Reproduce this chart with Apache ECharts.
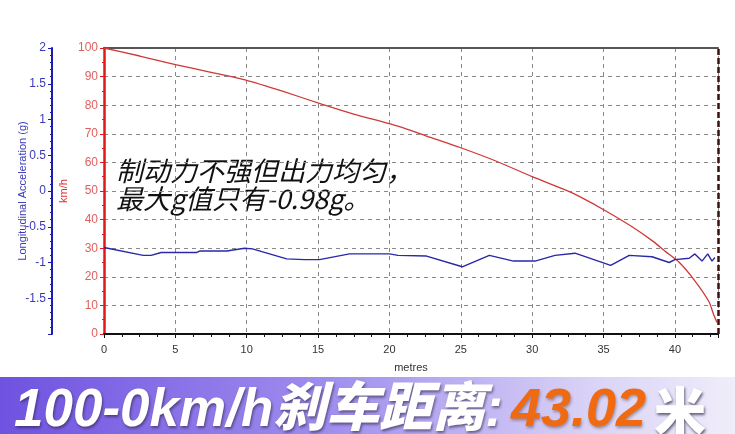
<!DOCTYPE html>
<html><head><meta charset="utf-8">
<script src="https://cdn.jsdelivr.net/npm/echarts@6/dist/echarts.min.js"></script>
<style>html,body{margin:0;padding:0;background:#fff}#c{width:735px;height:434px}</style>
</head><body><div id="c"></div>
<script>
// Distance (m) and speed (km/h)
const speedDist = [0,2.5,5,7.5,10,12.5,15.3,17.5,20.7,22.5,24.9,27.5,30,32.4,33.3,35.1,37,38.5,39.35,40.3,41.4,42.4,42.7,42.95];
const speedVals = [100,97.2,94.2,91.5,88.7,84.9,80.3,76.9,72.5,69.4,65.3,60.4,55,50.2,48.1,43.2,37.5,32.3,28.8,25.1,18.6,11.2,7,4];
// Distance (m) and longitudinal acceleration (g)
const accDist = [0,2.75,3.3,4.0,6.5,6.7,8.6,9.85,10.4,12.8,14.05,15.1,17.2,20.0,20.6,22.6,25.1,27.0,28.7,30.2,31.6,33.0,35.5,36.8,38.4,39.6,40.0,41.0,41.4,41.9,42.3,42.6,42.8];
const accVals = [-0.79,-0.90,-0.90,-0.86,-0.86,-0.84,-0.84,-0.80,-0.81,-0.95,-0.96,-0.96,-0.88,-0.88,-0.90,-0.91,-1.06,-0.90,-0.98,-0.98,-0.90,-0.87,-1.04,-0.90,-0.92,-1.00,-0.96,-0.94,-0.88,-0.98,-0.88,-0.98,-0.93];
const stopDistance = 43.02;
const xTicks = [0,5,10,15,20,25,30,35,40];
const note = '制动力不强但出力均匀，\n最大g值只有-0.98g。';
const bannerA = '100-0km/h刹车距离:';
const bannerB = '43.02';
const bannerC = '米';

const chart = echarts.init(document.getElementById('c'), null, {renderer:'canvas'});
chart.setOption({
  animation:false,
  backgroundColor:'#fff',
  grid: {left:104, right:17, top:48, bottom:100, containLabel:false, outerBoundsMode:'none'},
  xAxis: [{
    type:'value', min:0, max:stopDistance, interval:5,
    name:'metres', nameLocation:'middle', nameGap:28, nameMoveOverlap:false,
    nameTextStyle:{color:'#333', fontSize:11, fontFamily:'Liberation Sans'},
    axisLine:{onZero:false, lineStyle:{color:'#111', width:2}},
    axisTick:{show:true, length:4, lineStyle:{color:'#111'}},
    minorTick:{show:true, splitNumber:4, length:3, lineStyle:{color:'#111'}},
    axisLabel:{color:'#333', fontSize:11, fontFamily:'Liberation Sans', margin:10,
      formatter:v=> xTicks.includes(v) ? String(v) : ''},
    splitLine:{show:true, lineStyle:{color:'#8a8a8a', type:[4,4], width:1}}
  },{
    type:'value', min:0, max:stopDistance, position:'top',
    axisLine:{show:true, onZero:false, lineStyle:{color:'#555', width:2}},
    axisTick:{show:false}, axisLabel:{show:false}, splitLine:{show:false}
  }],
  yAxis: [{
    type:'value', min:0, max:100, interval:10, position:'left',
    name:'km/h', nameLocation:'middle', nameGap:35, nameRotate:90, nameMoveOverlap:false,
    nameTextStyle:{color:'#e03030', fontSize:11, fontFamily:'Liberation Sans'},
    axisLine:{show:true, onZero:false, lineStyle:{color:'#e01818', width:2.5}},
    axisTick:{show:true, length:4, lineStyle:{color:'#e01818'}},
    minorTick:{show:true, splitNumber:2, length:2, lineStyle:{color:'#e01818'}},
    axisLabel:{color:'#e06060', fontSize:12, fontFamily:'Liberation Sans', margin:6},
    splitLine:{show:true, lineStyle:{color:'#8a8a8a', type:[4,4], width:1}}
  },{
    type:'value', min:-2, max:2, interval:0.5, position:'left', offset:52,
    name:'Longitudinal Acceleration (g)', nameLocation:'middle', nameGap:24, nameRotate:90, nameMoveOverlap:false,
    nameTextStyle:{color:'#3a3ab8', fontSize:11, fontFamily:'Liberation Sans'},
    axisLine:{show:true, onZero:false, lineStyle:{color:'#1c1cb0', width:2}},
    axisTick:{show:true, length:4, lineStyle:{color:'#1c1cb0'}},
    minorTick:{show:true, splitNumber:5, length:2, lineStyle:{color:'#1c1cb0'}},
    axisLabel:{color:'#3a3ab8', fontSize:12, fontFamily:'Liberation Sans', margin:6, showMinLabel:false},
    splitLine:{show:false}
  }],
  series: [{
    type:'line', xAxisIndex:0, yAxisIndex:0, smooth:0.2, symbol:'none',
    data: speedDist.map((d,i)=>[d, speedVals[i]]),
    lineStyle:{color:'#d03838', width:1.3},
    markLine:{silent:true, symbol:'none', label:{show:false},
      lineStyle:{color:'#3a1010', type:[6,3], width:2.5},
      data:[{xAxis:stopDistance}]}
  },{
    type:'line', xAxisIndex:0, yAxisIndex:1, symbol:'none',
    data: accDist.map((d,i)=>[d, accVals[i]]),
    lineStyle:{color:'#2828a8', width:1.4}
  }],
  graphic: [{
    type:'text', left:116, top:157,
    style:{text:note, fontSize:27, lineHeight:28, fontStyle:'italic',
      fontFamily:'"Noto Sans CJK SC", sans-serif', fill:'#111'}
  },{
    type:'rect', left:0, top:377, shape:{width:735, height:57},
    style:{fill:new echarts.graphic.LinearGradient(0,0,1,0,[
      {offset:0,color:'#6f52e0'},{offset:0.45,color:'#a08eee'},{offset:0.8,color:'#d9d2f6'},{offset:1,color:'#f0edfa'}])}
  },{
    type:'text', left:14, top:384,
    style:{
      text:'{a|'+bannerA+'}{b|'+bannerB+'}{c|'+bannerC+'}',
      rich:{
        a:{fontSize:53, fontWeight:900, fontStyle:'italic', fill:'#fff',
           fontFamily:'"Liberation Sans","Noto Sans CJK SC",sans-serif',
           textShadowColor:'rgba(40,30,60,0.6)', textShadowBlur:3, textShadowOffsetX:1, textShadowOffsetY:2},
        b:{fontSize:54, fontWeight:900, fontStyle:'italic', fill:'#f06a12',
           fontFamily:'"Liberation Sans",sans-serif',
           textShadowColor:'rgba(60,40,40,0.4)', textShadowBlur:3, textShadowOffsetX:1, textShadowOffsetY:2, padding:[0,8,0,8]},
        c:{fontSize:52, fontWeight:900, fill:'#fff',
           fontFamily:'"Noto Sans CJK SC",sans-serif',
           textShadowColor:'rgba(40,30,60,0.7)', textShadowBlur:3, textShadowOffsetX:1, textShadowOffsetY:2}
      }
    }
  }]
});
</script></body></html>
